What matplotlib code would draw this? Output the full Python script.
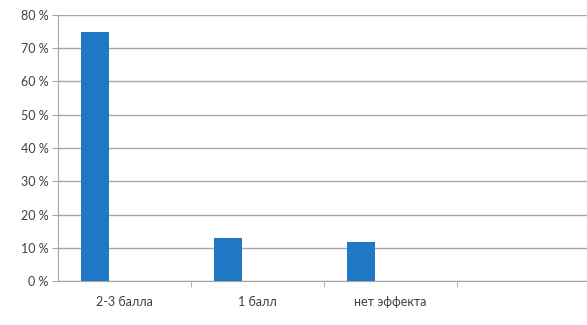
import numpy as np
import matplotlib.pyplot as plt

categories = ["2-3 балла", "1 балл", "нет эффекта", ""]
values = [75, 13, 11.7, 0]
yticks = [0, 10, 20, 30, 40, 50, 60, 70, 80]

plt.rcParams['font.family'] = ['Lato', 'DejaVu Sans']

fig = plt.figure(figsize=(5.87, 3.25), dpi=100)
ax = fig.add_axes([0.099, 0.135, 0.905, 0.819])

x = np.arange(len(categories))
ax.bar(x[:3] - 0.22, values[:3], width=0.21, color='#1f78c4', zorder=3)

ax.set_ylim(0, 80)
ax.set_xlim(-0.5, 3.5)
ax.set_yticks(yticks)
ax.set_yticklabels([f"{v} %" for v in yticks])
ax.yaxis.grid(True, color='#a6a6a6', linewidth=1.0, zorder=0)

# category labels centered, ticks at category boundaries
ax.set_xticks(x)
ax.set_xticklabels(categories)
ax.set_xticks(np.arange(0.5, 3.5, 1.0), minor=True)
ax.tick_params(axis='x', which='major', length=0, pad=11, labelsize=9, colors='#404040')
ax.tick_params(axis='x', which='minor', length=4, color='#a6a6a6')
ax.tick_params(axis='y', length=4, color='#a6a6a6', labelsize=9, labelcolor='#404040', pad=3)

for s in ['top', 'right']:
    ax.spines[s].set_visible(False)
for s in ['left', 'bottom']:
    ax.spines[s].set_color('#a6a6a6')

fig.savefig("out.png", dpi=100)
